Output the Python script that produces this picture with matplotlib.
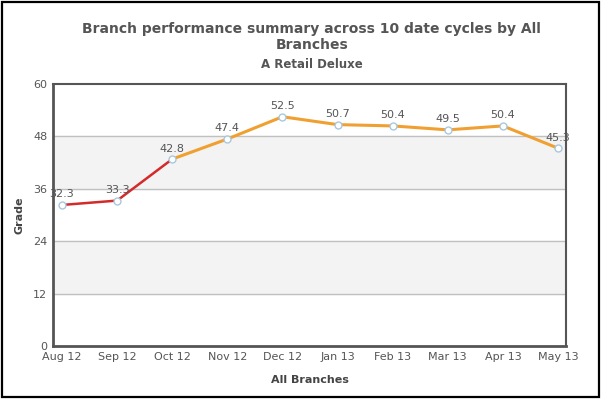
import matplotlib.pyplot as plt
from matplotlib.patches import Rectangle

months = ['Aug 12', 'Sep 12', 'Oct 12', 'Nov 12', 'Dec 12',
          'Jan 13', 'Feb 13', 'Mar 13', 'Apr 13', 'May 13']
grade = [32.3, 33.3, 42.8, 47.4, 52.5, 50.7, 50.4, 49.5, 50.4, 45.3]
red_until = 2  # red segment from Aug 12 to Oct 12
yticks = [0, 12, 24, 36, 48, 60]

fig = plt.figure(figsize=(6.02, 3.99), dpi=100)
fig.patches.append(Rectangle((0.004, 0.006), 0.991, 0.988, transform=fig.transFigure,
                             fill=False, edgecolor='black', linewidth=1.6))

ax = fig.add_axes([53/602, 1 - 346/399, 513/602, 262/399])
x = list(range(len(months)))
ax.set_xlim(-0.163, 9.145)
ax.set_ylim(0, 60)

# alternating bands
for lo, hi in [(12, 24), (36, 48)]:
    ax.axhspan(lo, hi, color='#f3f3f3', zorder=0)
for t in yticks[1:-1]:
    ax.axhline(t, color='#c0c0c0', linewidth=1, zorder=1)

ax.plot(x[:red_until + 1], grade[:red_until + 1], color='#d42a2a', linewidth=1.8, zorder=3)
ax.plot(x[red_until:], grade[red_until:], color='#f0a030', linewidth=2.2, zorder=3)
ax.plot(x, grade, 'o', markersize=5, markerfacecolor='white',
        markeredgecolor='#a8c8e0', markeredgewidth=1, zorder=4)

for xi, yi in zip(x, grade):
    ax.annotate('%.1f' % yi, (xi, yi), xytext=(0, 4), textcoords='offset points',
                ha='center', va='bottom', fontsize=8, color='#555555', zorder=5)

ax.set_xticks(x)
ax.set_xticklabels(months)
ax.set_yticks(yticks)
ax.tick_params(length=0, labelsize=8, labelcolor='#555555', pad=4)
for side in ['left', 'bottom']:
    ax.spines[side].set_color('#555555')
    ax.spines[side].set_linewidth(2)
for side in ['top', 'right']:
    ax.spines[side].set_color('#555555')
    ax.spines[side].set_linewidth(1.5)

ax.set_xlabel('All Branches', fontsize=8, fontweight='bold', color='#444444', labelpad=10)
ax.set_ylabel('Grade', fontsize=8, fontweight='bold', color='#444444', labelpad=6)

fig.text(0.518, 1 - 37/399, 'Branch performance summary across 10 date cycles by All\nBranches',
         ha='center', va='center', fontsize=10, fontweight='bold', color='#555555',
         linespacing=1.1)
fig.text(0.518, 1 - 65/399, 'A Retail Deluxe', ha='center', va='center',
         fontsize=8.5, fontweight='bold', color='#555555')

fig.savefig('out.png', dpi=100)
